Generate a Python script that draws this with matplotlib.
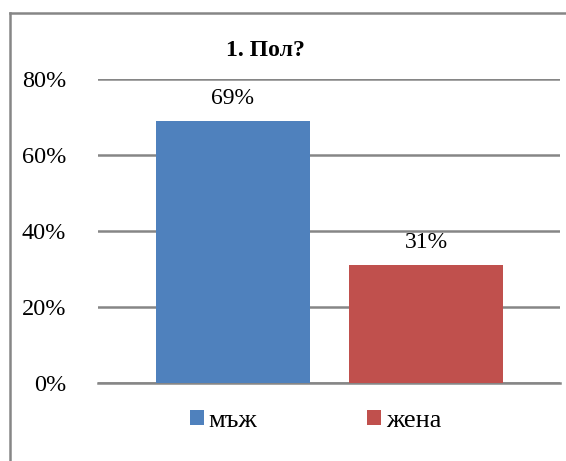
import matplotlib.pyplot as plt
from matplotlib.lines import Line2D
from matplotlib.patches import Patch

# данни
categories = ['мъж', 'жена']
values = [0.69, 0.31]
colors = ['#4F81BD', '#C0504D']
yticks = [0, 0.2, 0.4, 0.6, 0.8]
ytick_labels = ['0%', '20%', '40%', '60%', '80%']
title = '1. Пол?'

plt.rcParams['font.family'] = ['Liberation Serif', 'DejaVu Serif']

W, H = 566, 461
fig = plt.figure(figsize=(W / 100, H / 100), dpi=100)
ax = fig.add_axes([98 / W, (H - 382.7) / H, (560 - 98) / W, (382.7 - 79.3) / H])

x = list(range(len(categories)))
bars = ax.bar(x, values, width=0.798, color=colors, zorder=3)
for xi, v in zip(x, values):
    ax.text(xi, v + 0.032, f'{round(v * 100)}%', ha='center', va='bottom', fontsize=17)

ax.set_xlim(-0.699, 1.694)
ax.set_ylim(0, 0.8)
ax.set_yticks(yticks)
ax.set_yticklabels(ytick_labels, fontsize=17.5)
ax.set_xticks([])
ax.tick_params(axis='y', length=0, pad=23)
ax.grid(axis='y', color='#868686', linewidth=1.8, zorder=0)
for s in ['top', 'right', 'left']:
    ax.spines[s].set_visible(False)
ax.spines['bottom'].set_color('#868686')
ax.spines['bottom'].set_linewidth(1.8)

fig.text(265 / W, 1 - 50 / H, title, ha='center', va='center', fontsize=17, fontweight='bold')

handles = [Patch(facecolor=c) for c in colors]
fig.legend(handles, categories, loc='center', bbox_to_anchor=(315.5 / W, 1 - 421 / H), ncol=2,
           frameon=False, fontsize=19, handlelength=0.53, handleheight=0.53,
           handletextpad=0.19, columnspacing=4.15, borderpad=0, borderaxespad=0)

# рамка (лява и горна)
fig.add_artist(Line2D([9.5 / W, 9.5 / W], [0, 1 - 13.5 / H], color='#868686', linewidth=1.8))
fig.add_artist(Line2D([9.5 / W, 1], [1 - 13.5 / H, 1 - 13.5 / H], color='#868686', linewidth=1.8))

fig.savefig('out.png', dpi=100)
